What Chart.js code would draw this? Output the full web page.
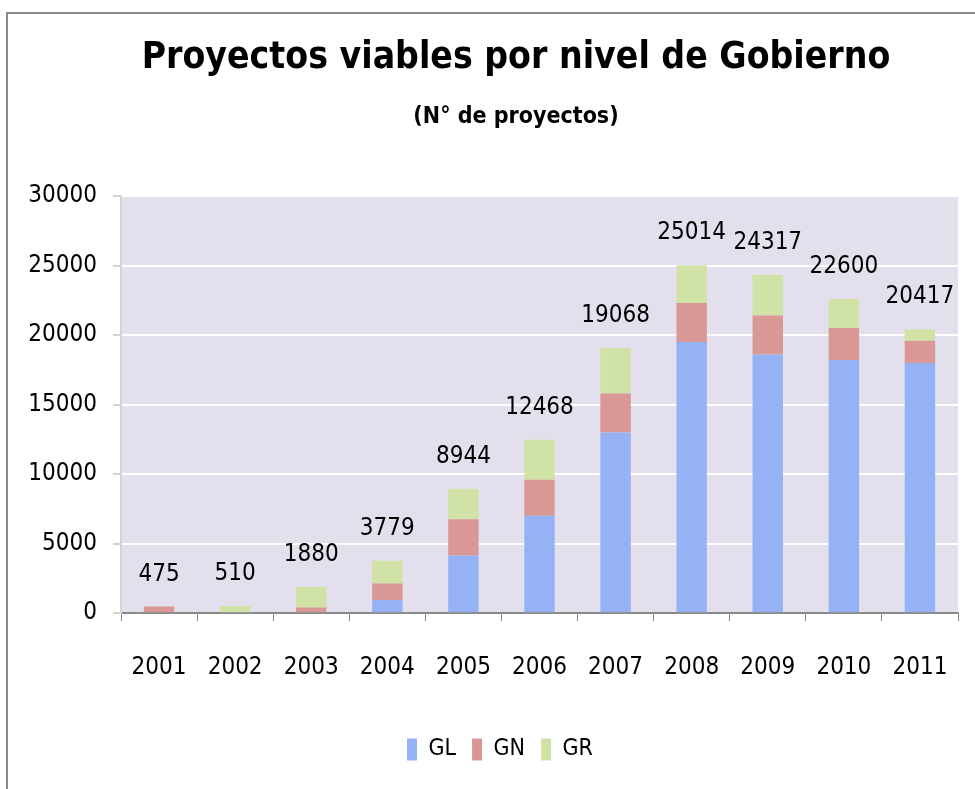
<!DOCTYPE html>
<html>
<head>
<meta charset="utf-8">
<script src="https://cdn.jsdelivr.net/npm/chart.js@4"></script>
<style>
  body { margin: 0; background: #fff; overflow: hidden; }
  #wrap { position: relative; width: 975px; height: 789px; }
  #frame {
    position: absolute; left: 6px; top: 12px; width: 1000px; height: 800px;
    border-top: 2px solid #8a8a8a; border-left: 2px solid #8a8a8a;
    pointer-events: none;
  }
  canvas { position: absolute; left: 0; top: 0; }
</style>
</head>
<body>
<div id="wrap">
  <canvas id="chart" width="975" height="789"></canvas>
  <div id="frame"></div>
</div>
<script>
const years = ["2001", "2002", "2003", "2004", "2005", "2006", "2007", "2008", "2009", "2010", "2011"];
const gl = [0, 0, 0, 950, 4150, 7000, 13000, 19500, 18600, 18200, 18000];
const gn = [475, 0, 410, 1180, 2600, 2600, 2800, 2800, 2800, 2300, 1600];
const gr = [0, 510, 1470, 1649, 2194, 2868, 3268, 2714, 2917, 2100, 817];
const totals = [475, 510, 1880, 3779, 8944, 12468, 19068, 25014, 24317, 22600, 20417];

const FONT = "'Liberation Sans Narrow', 'DejaVu Sans Condensed', 'Open Sans', sans-serif";

// lavender plot background
const plotBg = {
  id: "plotBg",
  beforeDraw(chart) {
    const { ctx, chartArea: a } = chart;
    ctx.save();
    ctx.fillStyle = "#e4dfec";
    ctx.fillRect(a.left, a.top, a.right - a.left, a.bottom - a.top);
    ctx.restore();
  }
};

// shift title/subtitle/legend so they sit centred like the original
const shiftBoxes = {
  id: "shiftBoxes",
  afterLayout(chart) {
    chart.boxes.forEach((b) => {
      if (b.position === "top" && b.options && b.options.text) b.left = 2 * 516 - b.right;
      if (b === chart.legend) b.left = 2 * 500 - b.right;
    });
  }
};

// totals above each stack
const totalLabels = {
  id: "totalLabels",
  afterDatasetsDraw(chart) {
    const ctx = chart.ctx;
    const meta = chart.getDatasetMeta(chart.data.datasets.length - 1);
    ctx.save();
    ctx.font = "24px " + FONT;
    ctx.fillStyle = "#000";
    ctx.textAlign = "center";
    ctx.textBaseline = "alphabetic";
    meta.data.forEach((bar, i) => {
      ctx.fillText(String(totals[i]), bar.x, bar.y - 26);
    });
    ctx.restore();
  }
};

new Chart(document.getElementById("chart"), {
  type: "bar",
  data: {
    labels: years,
    datasets: [
      { label: "GL", data: gl, backgroundColor: "#95b3f4" },
      { label: "GN", data: gn, backgroundColor: "#d99795" },
      { label: "GR", data: gr, backgroundColor: "#d0e2a5" }
    ]
  },
  options: {
    responsive: false,
    animation: false,
    categoryPercentage: 0.8,
    barPercentage: 0.5,
    layout: { padding: { left: 20, right: 17, top: 0, bottom: 18 } },
    plugins: {
      title: {
        display: true,
        text: "Proyectos viables por nivel de Gobierno",
        color: "#000",
        font: { family: FONT, size: 37, weight: "bold" },
        padding: { top: 36, bottom: 0 }
      },
      subtitle: {
        display: true,
        text: "(N° de proyectos)",
        color: "#000",
        font: { family: FONT, size: 23, weight: "bold" },
        padding: { top: 23, bottom: 65 }
      },
      legend: {
        position: "bottom",
        labels: {
          color: "#000",
          font: { family: FONT, size: 23 },
          boxWidth: 10,
          boxHeight: 22,
          padding: 16
        }
      },
      tooltip: { enabled: false }
    },
    scales: {
      x: {
        stacked: true,
        grid: { drawOnChartArea: false, offset: true, tickLength: 8, tickColor: "#8a8a8a" },
        border: { color: "#8a8a8a", width: 2 },
        ticks: { color: "#000", font: { family: FONT, size: 24 }, padding: 32 },
        afterFit(scale) {
          scale.height += 8;
          // tick padding should only push labels down, not in from the sides
          scale.paddingLeft = 0;
          scale.paddingRight = 0;
        }
      },
      y: {
        stacked: true,
        min: 0,
        max: 30000,
        ticks: {
          stepSize: 5000,
          color: "#000",
          font: { family: FONT, size: 24 },
          padding: 16,
          callback: (v) => String(v)
        },
        grid: { color: "#ffffff", lineWidth: 2, tickLength: 8, tickColor: "#d4d4d4" },
        border: { color: "#d4d4d4", width: 2 },
        afterFit(scale) { scale.width = 101; }
      }
    }
  },
  plugins: [plotBg, shiftBoxes, totalLabels]
});
</script>
</body>
</html>
